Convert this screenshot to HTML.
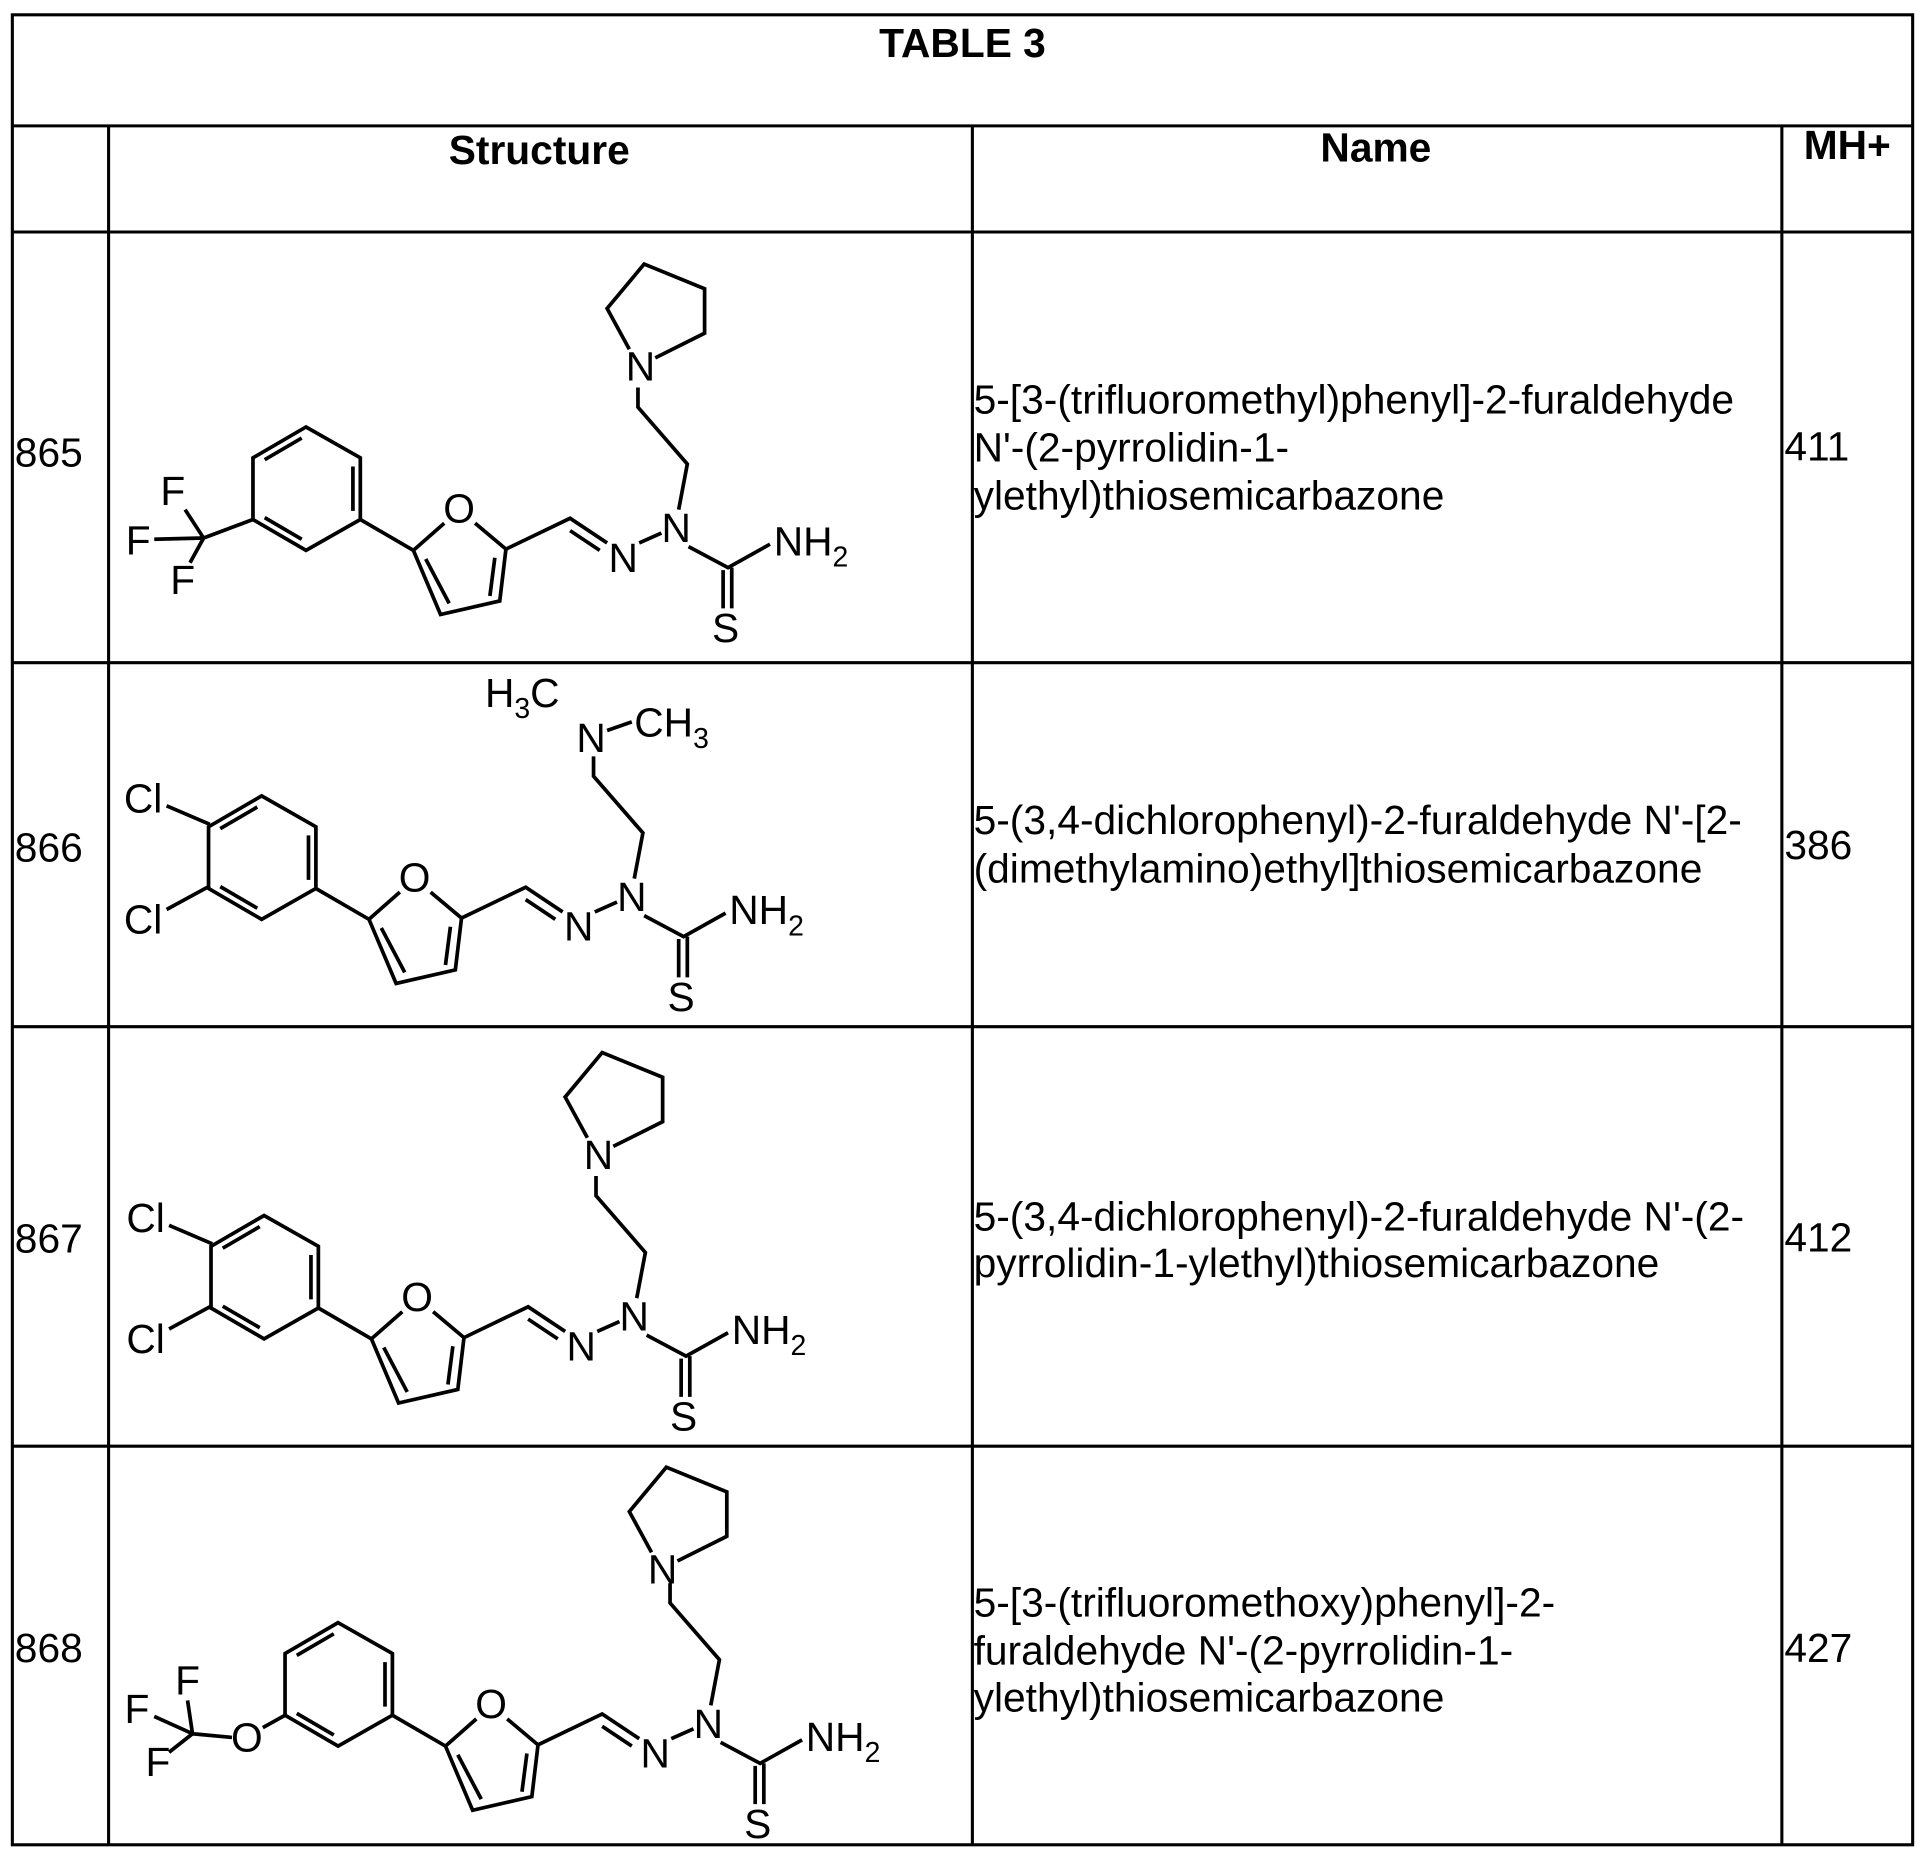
<!DOCTYPE html>
<html><head><meta charset="utf-8"><style>
html,body{margin:0;padding:0;background:#fff}
svg{display:block}
text{font-family:"Liberation Sans",Arial,sans-serif;fill:#000}
.t{font-size:33px}
.h{font-size:33px;font-weight:bold}
.a{font-size:33px;text-anchor:middle;dominant-baseline:central}
.s{font-size:23px}
</style></head><body>
<svg width="1925" height="1849" viewBox="0 0 1560 1498.4" xmlns="http://www.w3.org/2000/svg">
<defs>
<g id="core" stroke="#000" stroke-width="3" fill="none">
<path d="M248,346 L292,371 L292,421 L248,446 L205,421 L205,371 Z"/>
<path d="M244.5,355 L214.5,372.5 M286,378 L286,414 M244.5,437 L214.5,419.5"/>
<path d="M292,421 L335,446 M335,446 L360,424 M385,424 L410,445 L405,487 L357,498 L335,446 M364,489 L345,453 M401,452 L397,483"/>
<path d="M410,445 L462,420 L492,440 M462,430 L486,446"/>
<path d="M518,440 L536,432"/>
<path d="M558,443 L590,460 L624,441 M586,462 L586,493 M593,460 L593,493"/>
<path d="M550,413 L557,376 L517,330 L517,314"/>
</g>
<g id="coreT">
<text class="a" x="372" y="412">O</text>
<text class="a" x="505" y="452">N</text>
<text class="a" x="548" y="428">N</text>
<text class="a" x="588" y="509">S</text>
<text class="t" x="627" y="450">NH<tspan class="s" dy="9">2</tspan></text>
</g>
<g id="pyr">
<path stroke="#000" stroke-width="3" fill="none" d="M510,283 L492,250 L522,214 L571,234 L571,270 L531,290"/>
<text class="a" x="519" y="297">N</text>
</g>
<g id="cl2">
<path stroke="#000" stroke-width="3" fill="none" d="M135,653 L170,668 M135,737 L170,718"/>
<text class="a" x="116" y="647">Cl</text>
<text class="a" x="116" y="745">Cl</text>
</g>
</defs>
<g stroke="#000" stroke-width="2.5" fill="none">
<rect x="10" y="12" width="1540" height="1483"/>
<path d="M10,102 H1550 M10,188 H1550 M10,537 H1550 M10,832 H1550 M10,1172 H1550"/>
<path d="M88,102 V1495 M788,102 V1495 M1444,102 V1495"/>
</g>
<text class="h" x="780" y="46" text-anchor="middle">TABLE 3</text>
<text class="h" x="437" y="133" text-anchor="middle">Structure</text>
<text class="h" x="1115" y="131" text-anchor="middle">Name</text>
<text class="h" x="1497" y="129" text-anchor="middle">MH+</text>

<text class="t" x="12" y="378">865</text>
<text class="t" x="12" y="698">866</text>
<text class="t" x="12" y="1015">867</text>
<text class="t" x="12" y="1347">868</text>
<text class="t" x="1446" y="373">411</text>
<text class="t" x="1446" y="696">386</text>
<text class="t" x="1446" y="1014">412</text>
<text class="t" x="1446" y="1347">427</text>

<text class="t" x="789" y="335">5-[3-(trifluoromethyl)phenyl]-2-furaldehyde</text>
<text class="t" x="789" y="374">N'-(2-pyrrolidin-1-</text>
<text class="t" x="789" y="413">ylethyl)thiosemicarbazone</text>
<text class="t" x="789" y="676">5-(3,4-dichlorophenyl)-2-furaldehyde N'-[2-</text>
<text class="t" x="789" y="715">(dimethylamino)ethyl]thiosemicarbazone</text>
<text class="t" x="789" y="997">5-(3,4-dichlorophenyl)-2-furaldehyde N'-(2-</text>
<text class="t" x="789" y="1035">pyrrolidin-1-ylethyl)thiosemicarbazone</text>
<text class="t" x="789" y="1310">5-[3-(trifluoromethoxy)phenyl]-2-</text>
<text class="t" x="789" y="1349">furaldehyde N'-(2-pyrrolidin-1-</text>
<text class="t" x="789" y="1387">ylethyl)thiosemicarbazone</text>

<!-- row 1 -->
<use href="#core"/><use href="#coreT"/><use href="#pyr"/>
<path stroke="#000" stroke-width="3" fill="none" d="M125,437 L165,436 L205,421 M150,413 L165,436 L154,456"/>
<text class="a" x="140" y="398">F</text>
<text class="a" x="112" y="438">F</text>
<text class="a" x="148" y="470">F</text>

<!-- row 2 -->
<g transform="translate(-36,299)"><use href="#core"/><use href="#coreT"/></g>
<use href="#cl2"/>
<path stroke="#000" stroke-width="3" fill="none" d="M492,592 L512,585"/>
<text class="a" x="479" y="598">N</text>
<text class="t" x="514" y="597">CH<tspan class="s" dy="9">3</tspan></text>
<text class="t" x="393" y="573">H<tspan class="s" dy="9">3</tspan><tspan dy="-9">C</tspan></text>

<!-- row 3 -->
<g transform="translate(-34,639)"><use href="#core"/><use href="#coreT"/><use href="#pyr"/></g>
<g transform="translate(2,340)"><use href="#cl2"/></g>

<!-- row 4 -->
<g transform="translate(26,969)"><use href="#core"/><use href="#coreT"/></g>
<g transform="translate(18,975)"><use href="#pyr"/></g>
<path stroke="#000" stroke-width="3" fill="none" d="M231,1390 L213,1400 M188,1408 L156,1405 L152,1378 M156,1405 L125,1391 M156,1405 L137,1420"/>
<text class="a" x="200" y="1408">O</text>
<text class="a" x="152" y="1362">F</text>
<text class="a" x="111" y="1385">F</text>
<text class="a" x="128" y="1428">F</text>
</svg>
</body></html>
